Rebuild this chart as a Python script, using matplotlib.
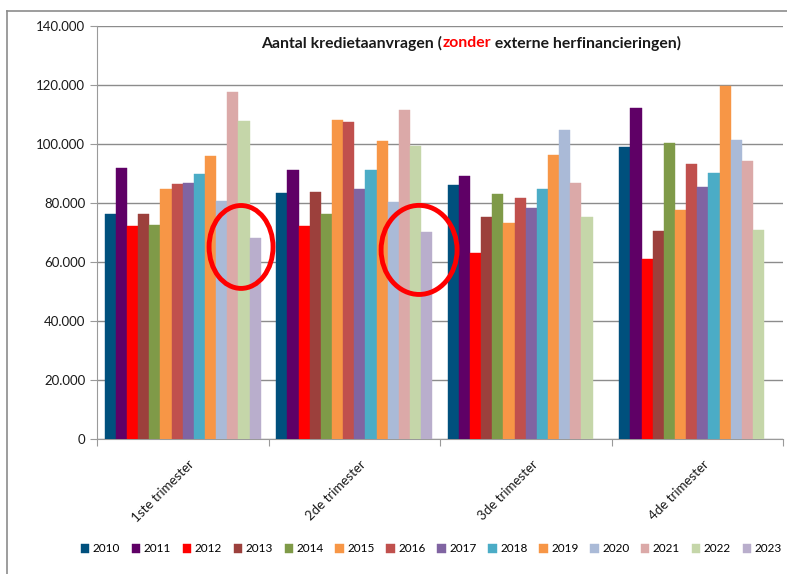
import numpy as np
import matplotlib
matplotlib.use("Agg")
import matplotlib.pyplot as plt
from matplotlib.patches import Ellipse
from matplotlib.lines import Line2D
from matplotlib.ticker import FuncFormatter

plt.rcParams['font.family'] = ['Lato', 'DejaVu Sans']

# --- data ---
quarters = ["1ste trimester", "2de trimester", "3de trimester", "4de trimester"]
years = ["2010", "2011", "2012", "2013", "2014", "2015", "2016",
         "2017", "2018", "2019", "2020", "2021", "2022", "2023"]

v2010 = [76400, 83500, 86000, 99000]
v2011 = [92000, 91300, 89300, 112100]
v2012 = [72200, 72300, 63200, 61000]
v2013 = [76400, 83800, 75100, 70500]
v2014 = [72500, 76200, 83200, 100500]
v2015 = [84900, 108200, 73300, 77600]
v2016 = [86300, 107600, 81800, 93100]
v2017 = [86800, 84600, 78300, 85400]
v2018 = [89800, 91300, 84600, 90200]
v2019 = [95800, 100900, 96300, 119600]
v2020 = [80700, 80300, 104600, 101500]
v2021 = [117700, 111400, 86800, 94100]
v2022 = [107900, 99300, 75100, 70800]
v2023 = [68000, 70200, np.nan, np.nan]

series = [v2010, v2011, v2012, v2013, v2014, v2015, v2016,
          v2017, v2018, v2019, v2020, v2021, v2022, v2023]

colors = ["#00507D", "#5F0066", "#FF0000", "#9C403C", "#7F9A48", "#F79646", "#C0504D",
          "#8064A2", "#4BACC6", "#F79646", "#AABAD7", "#DBA9A8", "#C5D6A9", "#B9AECC"]

# --- figure ---
fig = plt.figure(figsize=(7.87, 5.74), dpi=100)
ax = fig.add_axes([97 / 787, 1 - 439 / 574, (783 - 97) / 787, (439 - 26) / 574])

x = np.arange(len(quarters))
group = 0.91
w = group / len(years)
for j, (yr, vals, c) in enumerate(zip(years, series, colors)):
    ax.bar(x - group / 2 + (j + 0.5) * w, vals, width=w, color=c,
           edgecolor=c, linewidth=0.3, label=yr, zorder=3)

ax.set_xlim(-0.5, 3.5)
ax.set_ylim(0, 140000)
ax.set_yticks(np.arange(0, 140001, 20000))
ax.yaxis.set_major_formatter(FuncFormatter(lambda v, p: f"{int(v):,}".replace(",", ".")))
ax.grid(axis='y', color="#8C8C8C", linewidth=1.0, zorder=0)

ax.set_xticks(np.arange(-0.5, 3.6, 1.0))
ax.set_xticklabels([])
for i, q in enumerate(quarters):
    ax.annotate(q, xy=(i, 0), xycoords=('data', 'axes fraction'),
                xytext=(4, -14), textcoords='offset points',
                rotation=45, rotation_mode='anchor', ha='right', va='top',
                fontsize=9.5, color="#1A1A1A")

for s in ['top', 'right']:
    ax.spines[s].set_visible(False)
for s in ['left', 'bottom']:
    ax.spines[s].set_color("#9A9A9A")
ax.tick_params(axis='both', colors="#9A9A9A", length=5, labelcolor="#1A1A1A", labelsize=9.5)

# red circles around the 2023 bars
ax.add_patch(Ellipse((0.34, 65100), 0.373, 28100, fill=False, edgecolor="#FF0000",
                     linewidth=3.5, zorder=5))
ax.add_patch(Ellipse((1.378, 64100), 0.443, 30200, fill=False, edgecolor="#FF0000",
                     linewidth=3.5, zorder=5))

# title made of pieces, "zonder" in red
parts = [("Aantal kredietaanvragen (", "#1A1A1A"), ("zonder", "#FF0000"),
         (" externe herfinancieringen)", "#1A1A1A")]
fig.canvas.draw()
r = fig.canvas.get_renderer()
texts = []
for s, c in parts:
    texts.append(fig.text(0, 1 - 43 / 574, s, color=c, fontsize=11.3,
                          fontweight='bold', va='center', ha='left'))
widths = [t.get_window_extent(r).width for t in texts]
xpos = 471 - sum(widths) / 2
for t, wd in zip(texts, widths):
    t.set_x(xpos / 787)
    xpos += wd

leg = fig.legend(loc='center', bbox_to_anchor=(0.548, 1 - 549 / 574), ncol=14,
                 frameon=False, fontsize=8.5, handlelength=0.7, handleheight=0.7,
                 handletextpad=0.3, columnspacing=1.0)

# chart frame lines
fig.add_artist(Line2D([7 / 787, 7 / 787], [0, 1 - 11 / 574], color="#8C8C8C", linewidth=1.2))
fig.add_artist(Line2D([7 / 787, 1], [1 - 11 / 574, 1 - 11 / 574], color="#8C8C8C", linewidth=1.2))

fig.savefig("out.png", dpi=100)
